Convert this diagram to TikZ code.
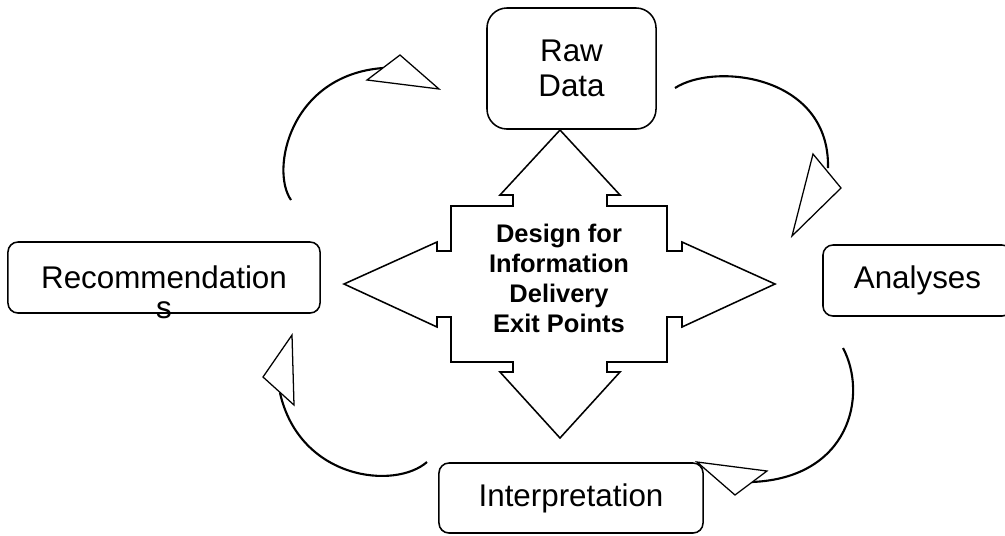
\documentclass[tikz,border=0pt]{standalone}
\usepackage{fontspec}
\setmainfont{Liberation Sans}
\usepackage{tikz}

\begin{document}
\begin{tikzpicture}[
		x=0.025cm, y=-0.025cm,
		MyBoxes/.style={draw=black,line width=1.1pt,rounded corners=2.5mm,inner sep=0pt,align=center,font=\fontsize{22.3}{25}\selectfont},
		BoxText/.style={inner sep=0pt,font=\fontsize{22.3}{25}\selectfont},
		CenterText/.style={align=center,font=\bfseries\fontsize{18.1}{21.3}\selectfont},
		Arcs/.style={draw=black,line width=1.5pt},
		ArrowHeads/.style={draw=black,fill=white,line width=0.9pt},
		CrossShape/.style={draw=black,line width=1.1pt,line join=miter}
		]

		\useasboundingbox (0,0) rectangle (1005,535);

		% the four stages
		\node[MyBoxes, rounded corners=5mm, minimum width=4.225cm, minimum height=3.025cm] (raw) at (571.5,68.5) {Raw\\Data};
		\node[MyBoxes, minimum width=7.8cm, minimum height=1.775cm] (rec) at (164,277.5) {Recommendation};
		\node[BoxText] (recs) at (164,310) {s};
		\node[MyBoxes, minimum width=4.725cm, minimum height=1.775cm] (ana) at (917.5,280.5) {Analyses};
		\node[MyBoxes, minimum width=6.6cm, minimum height=1.75cm] (int) at (571,498) {Interpretation};

		% cross with four arrow heads
		\draw[CrossShape] (560,130) -- (620,195) -- (607,195) -- (607,206) -- (667,206) -- (667,251)
			-- (682,251) -- (682,242) -- (775,284) -- (682,327) -- (682,317) -- (667,317)
			-- (667,362) -- (607,362) -- (607,372) -- (620,372) -- (560,438) -- (500,372)
			-- (513,372) -- (513,362) -- (451,362) -- (451,317) -- (437,317) -- (437,327)
			-- (344,284) -- (437,242) -- (437,251) -- (451,251) -- (451,206) -- (513,206)
			-- (513,195) -- (500,195) -- cycle;
		\node[CenterText] (exit) at (559,278.5) {Design for\\Information\\Delivery\\Exit Points};

		% curved arrows round the cycle
		\coordinate (tlA) at (291,200);
		\coordinate (tlB) at (383,68);
		\coordinate (trA) at (675,88);
		\coordinate (trB) at (828,168);
		\coordinate (brA) at (843,348);
		\coordinate (brB) at (752,482);
		\coordinate (blA) at (427,462);
		\coordinate (blB) at (280,393);

		\draw[Arcs] (tlA) .. controls (270,170) and (290,75) .. (tlB);
		\draw[Arcs] (trA) .. controls (715,62) and (830,75) .. (trB);
		\draw[Arcs] (brA) .. controls (868,395) and (850,478) .. (brB);
		\draw[Arcs] (blA) .. controls (395,490) and (300,480) .. (blB);

		\draw[ArrowHeads] (367,80) -- (400,55) -- (439,89) -- cycle;
		\draw[ArrowHeads] (813,154) -- (841,188) -- (792,236) -- cycle;
		\draw[ArrowHeads] (767,471) -- (735,495) -- (697,462) -- cycle;
		\draw[ArrowHeads] (263,377) -- (292,335) -- (294,405) -- cycle;

\end{tikzpicture}
\end{document}
